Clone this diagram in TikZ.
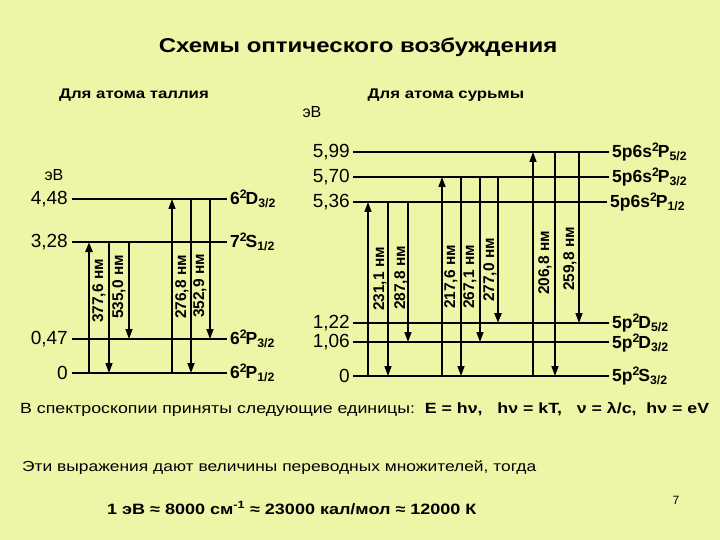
\documentclass[tikz,border=0pt]{standalone}
\usepackage{fontspec}
\setmainfont{Liberation Sans}
\newfontfamily\slidefont[FakeStretch=1.2]{Liberation Sans}
\usetikzlibrary{arrows.meta}
\definecolor{slidebg}{RGB}{239,245,167}
\newcommand{\termsym}[4]{#1\textsuperscript{#2}\kern-1.5pt#3\textsubscript{#4}}

\begin{document}
\begin{tikzpicture}[
        x=1pt, y=-1pt,
        every node/.style={
            inner sep=0pt,
            font=\fontsize{19}{22}\selectfont
        },
        energy/.style={anchor=east},
        term/.style={anchor=west, font=\fontsize{17.5}{20}\selectfont\bfseries},
        level/.style={line width=1.6pt},
        trans/.style={line width=1.4pt, -{Triangle[length=10pt,width=7pt]}},
        strong/.style={line width=2.6pt},
        wave/.style={rotate=90, font=\fontsize{15.5}{18}\selectfont\bfseries},
        heading/.style={font=\slidefont\fontsize{14}{16}\selectfont\bfseries},
        remark/.style={anchor=west, font=\slidefont\fontsize{14.5}{17}\selectfont}
    ]

        \useasboundingbox (0,0) rectangle (720,540);
        \fill[slidebg] (0,0) rectangle (720,540);

        \node[font=\slidefont\fontsize{20}{24}\selectfont\bfseries] (title) at (358,47)
        {Схемы оптического возбуждения};

        \node[heading] (thallium) at (134,95) {Для атома таллия};
        \node[heading] (antimony) at (446,95) {Для атома сурьмы};

        % thallium
        \node[font=\fontsize{16}{18}\selectfont] (tlunit) at (54,175) {эВ};

        \node[energy] (tl448) at (68,199) {4,48};
        \node[energy] (tl328) at (68,242) {3,28};
        \node[energy] (tl047) at (68,339) {0,47};
        \node[energy] (tl0)   at (68,373) {0};

        \node[term] (tlD32) at (230,199) {\termsym{6}{2}{D}{3/2}};
        \node[term] (tlS12) at (230,242) {\termsym{7}{2}{S}{1/2}};
        \node[term] (tlP32) at (230,339) {\termsym{6}{2}{P}{3/2}};
        \node[term] (tlP12) at (230,373) {\termsym{6}{2}{P}{1/2}};

        \draw[level] ([xshift=4pt]tl448.east) -- ([xshift=-3pt]tlD32.west);
        \draw[level] ([xshift=4pt]tl328.east) -- ([xshift=-3pt]tlS12.west);
        \draw[level] ([xshift=4pt]tl047.east) -- ([xshift=-3pt]tlP32.west);
        \draw[level] ([xshift=4pt]tl0.east) -- ([xshift=-3pt]tlP12.west);

        \draw[trans, strong] (89,0 |- tl0) -- (89,0 |- tl328);
        \draw[trans] (109,0 |- tl328) -- (109,0 |- tl0);
        \draw[trans] (129,0 |- tl328) -- (129,0 |- tl047);
        \draw[trans] (172,0 |- tl0) -- (172,0 |- tl448);
        \draw[trans] (191,0 |- tl448) -- (191,0 |- tl0);
        \draw[trans] (210,0 |- tl448) -- (210,0 |- tl047);

        \node[wave] (tlw1) at (99,291) {377,6 нм};
        \node[wave] (tlw2) at (119,287) {535,0 нм};
        \node[wave] (tlw3) at (182,287) {276,8 нм};
        \node[wave] (tlw4) at (200,286) {352,9 нм};

        % antimony
        \node[font=\fontsize{16}{18}\selectfont] (sbunit) at (312,112) {эВ};

        \node[energy] (sb599) at (350,152) {5,99};
        \node[energy] (sb570) at (350,177) {5,70};
        \node[energy] (sb536) at (350,202) {5,36};
        \node[energy] (sb122) at (350,323) {1,22};
        \node[energy] (sb106) at (350,342) {1,06};
        \node[energy] (sb0)   at (350,376) {0};

        \node[term] (sbP52) at (612,152) {5p6s\termsym{}{2}{P}{5/2}};
        \node[term] (sbP32) at (612,177) {5p6s\termsym{}{2}{P}{3/2}};
        \node[term] (sbP12) at (610,202) {5p6s\termsym{}{2}{P}{1/2}};
        \node[term] (sbD52) at (612,323) {5p\termsym{}{2}{D}{5/2}};
        \node[term] (sbD32) at (612,343) {5p\termsym{}{2}{D}{3/2}};
        \node[term] (sbS32) at (612,376) {5p\termsym{}{2}{S}{3/2}};

        \draw[level] (353,0 |- sb599) -- ([xshift=-3pt]sbP52.west);
        \draw[level] (353,0 |- sb570) -- ([xshift=-3pt]sbP32.west);
        \draw[level] (353,0 |- sb536) -- ([xshift=-3pt]sbP12.west);
        \draw[level] (353,0 |- sb122) -- (609,0 |- sb122);
        \draw[level] (353,0 |- sb106) -- (609,0 |- sb106);
        \draw[level] (353,0 |- sb0) -- ([xshift=-3pt]sbS32.west);

        \draw[trans] (368,0 |- sb0) -- (368,0 |- sb536);
        \draw[trans] (388,0 |- sb536) -- (388,0 |- sb0);
        \draw[trans] (408,0 |- sb536) -- (408,0 |- sb106);
        \draw[trans] (442,0 |- sb0) -- (442,0 |- sb570);
        \draw[trans] (461,0 |- sb570) -- (461,0 |- sb0);
        \draw[trans] (480,0 |- sb570) -- (480,0 |- sb106);
        \draw[trans, strong] (498,0 |- sb570) -- (498,0 |- sb122);
        \draw[trans] (533,0 |- sb0) -- (533,0 |- sb599);
        \draw[trans] (555,0 |- sb599) -- (555,0 |- sb0);
        \draw[trans] (579,0 |- sb599) -- (579,0 |- sb122);

        \node[wave] (sbw1) at (380,279) {231,1 нм};
        \node[wave] (sbw2) at (401,278) {287,8 нм};
        \node[wave] (sbw3) at (451,277) {217,6 нм};
        \node[wave] (sbw4) at (470,277) {267,1 нм};
        \node[wave] (sbw5) at (490,270) {277,0 нм};
        \node[wave] (sbw6) at (545,263) {206,8 нм};
        \node[wave] (sbw7) at (570,259) {259,8 нм};

        % units
        \node[remark, font=\slidefont\fontsize{14.8}{17}\selectfont] (units) at (20,409)
        {В спектроскопии приняты следующие единицы:\ \ \textbf{E = hν,\quad hν = kT,\quad ν = λ/c,\ \ hν = eV}};

        \node[remark] (factors) at (22,468)
        {Эти выражения дают величины переводных множителей, тогда};

        \node[font=\slidefont\fontsize{15}{18}\selectfont\bfseries, anchor=west] (equiv) at (107,508)
        {1 эВ ≈ 8000 см\textsuperscript{-1} ≈ 23000 кал/мол ≈ 12000 К};

        \node[font=\fontsize{12}{14}\selectfont] (page) at (676,500) {7};

    \end{tikzpicture}
\end{document}
